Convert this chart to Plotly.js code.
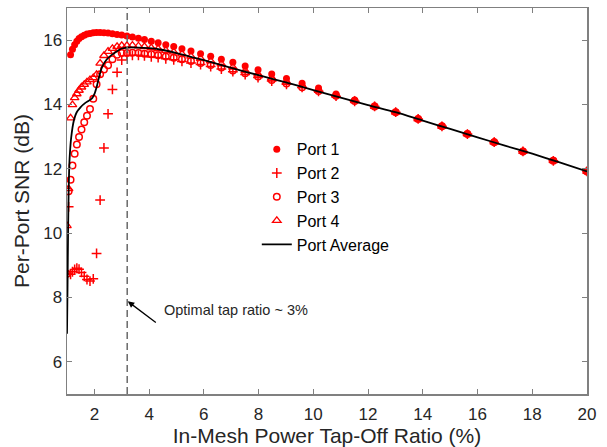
<!DOCTYPE html>
<html>
<head>
<meta charset="utf-8">
<script src="https://cdn.plot.ly/plotly-3.0.1.min.js"></script>
<style>html,body{margin:0;padding:0;background:#fff;}#chart{width:607px;height:447px;}</style>
</head>
<body>
<div id="chart"></div>
<script>
// Tap-off ratio (%) sample positions
var tapRatio = [1.00,1.06,1.13,1.20,1.28,1.36,1.44,1.53,1.63,1.73,1.84,1.96,2.08,2.21,2.35,2.50,2.66,2.83,3.00,3.19,
  3.39,3.61,3.83,4.08,4.33,4.61,4.90,5.20,5.53,5.88,6.25,6.64,7.06,7.51,7.98,8.48,9.02,9.59,10.19,10.83,
  11.51,12.24,13.01,13.83,14.70,15.63,16.61,17.66,18.77,20.00];

var port1 = [null,null,15.55,15.72,15.86,15.97,16.05,16.11,16.15,16.19,16.21,16.23,16.24,16.24,16.23,16.22,16.20,16.18,16.16,16.13,
  16.10,16.06,16.02,15.97,15.92,15.86,15.80,15.73,15.66,15.58,15.50,15.41,15.31,15.20,15.08,14.95,14.81,14.66,14.51,14.33,
  14.14,13.95,13.77,13.56,13.33,13.09,12.84,12.55,12.26,11.93];

var port2 = [8.75,10.82,8.72,8.80,8.87,8.91,8.88,8.78,8.66,8.56,8.51,8.58,9.37,11.03,12.65,13.71,14.47,15.00,15.38,15.52,
  15.53,15.53,15.51,15.48,15.46,15.42,15.39,15.34,15.29,15.24,15.18,15.10,15.02,14.93,14.84,14.73,14.63,14.53,14.41,14.26,
  14.10,13.94,13.76,13.55,13.32,13.08,12.83,12.54,12.25,11.92];

var port3 = [8.74,11.30,11.66,12.10,12.47,12.76,12.99,13.22,13.45,13.65,13.86,14.18,14.63,14.94,15.09,15.22,15.41,15.55,15.60,15.60,
  15.61,15.60,15.58,15.56,15.53,15.49,15.45,15.41,15.35,15.29,15.23,15.15,15.06,14.97,14.87,14.76,14.65,14.54,14.42,14.27,
  14.11,13.94,13.76,13.55,13.32,13.08,12.83,12.54,12.25,11.92];

var port4 = [10.23,11.38,13.58,13.99,14.21,14.33,14.44,14.54,14.62,14.70,14.77,14.83,14.93,15.28,15.52,15.65,15.74,15.80,15.83,15.83,
  15.84,15.82,15.80,15.76,15.73,15.68,15.63,15.57,15.50,15.43,15.35,15.26,15.16,15.05,14.94,14.82,14.70,14.58,14.44,14.28,
  14.12,13.94,13.76,13.55,13.32,13.08,12.83,12.54,12.25,11.92];

var avgX = [1.00,1.02,1.04,1.06,1.08,1.10,1.15,1.25,1.35,1.50,1.67,1.80,1.92,2.00,2.10,2.20,2.30,2.45,2.60,2.80,
  3.00,3.20,3.60,4.00,4.40,5.00,5.90,7.00,8.00,9.00,10.0,11.0,12.0,13.0,14.0,15.0,16.0,17.0,18.0,19.0,20.0];
var avgY = [6.87,8.40,10.10,11.30,12.00,12.40,12.95,13.50,13.75,13.92,14.05,14.12,14.20,14.32,14.60,14.95,15.20,15.40,15.52,15.64,
  15.74,15.77,15.77,15.75,15.71,15.60,15.40,15.14,14.91,14.69,14.45,14.21,13.98,13.76,13.50,13.24,12.98,12.72,12.47,12.20,11.92];

var seriesNames = ['Port 1','Port 2','Port 3','Port 4','Port Average'];
var xTicks = [2,4,6,8,10,12,14,16,18,20];
var yTicks = [6,8,10,12,14,16];
var optimalTap = 3.2;
var annotText = 'Optimal tap ratio ~ 3%';

var red = '#ff0000';
var FONT = 'Liberation Sans, Arial, Helvetica, sans-serif';

var traces = [
  {x: tapRatio, y: port1, name: seriesNames[0], mode: 'markers', type: 'scatter',
   marker: {symbol: 'circle', size: 7, color: red}},
  {x: tapRatio, y: port2, name: seriesNames[1], mode: 'markers', type: 'scatter',
   marker: {symbol: 'cross-thin-open', size: 7, color: red, line: {color: red, width: 1.5}}},
  {x: tapRatio, y: port3, name: seriesNames[2], mode: 'markers', type: 'scatter',
   marker: {symbol: 'circle-open', size: 6.5, color: red, line: {color: red, width: 1.5}}},
  {x: tapRatio, y: port4, name: seriesNames[3], mode: 'markers', type: 'scatter',
   marker: {symbol: 'triangle-up-open', size: 7.5, color: red, line: {color: red, width: 1.3}}},
  {x: avgX, y: avgY, name: seriesNames[4], mode: 'lines', type: 'scatter',
   line: {color: '#000000', width: 1.8, shape: 'spline', smoothing: 0.6}}
];

var axisCommon = {
  showgrid: false, zeroline: false, showline: true, linecolor: '#808080', linewidth: 1.5,
  mirror: 'ticks', ticks: 'inside', ticklen: 5, tickwidth: 1, tickcolor: '#808080',
  tickfont: {family: FONT, size: 17, color: '#262626'}
};

var layout = {
  width: 607, height: 447,
  margin: {l: 67, r: 20, t: 8, b: 53},
  paper_bgcolor: '#ffffff', plot_bgcolor: '#ffffff',
  font: {family: FONT, color: '#262626'},
  xaxis: Object.assign({}, axisCommon, {
    range: [1, 20], tickvals: xTicks, ticklabelstandoff: 4,
    title: {text: 'In-Mesh Power Tap-Off Ratio (%)', font: {family: FONT, size: 21, color: '#262626'}, standoff: 2}
  }),
  yaxis: Object.assign({}, axisCommon, {
    range: [5, 17], tickvals: yTicks, ticklabelstandoff: 0,
    title: {text: 'Per-Port SNR (dB)', font: {family: FONT, size: 21, color: '#262626'}, standoff: 8}
  }),
  showlegend: true,
  legend: {x: 0.365, y: 0.678, xanchor: 'left', yanchor: 'top', bgcolor: 'rgba(0,0,0,0)',
    font: {family: FONT, size: 16, color: '#000000'}},
  shapes: [
    {type: 'line', xref: 'x', yref: 'paper', x0: optimalTap, x1: optimalTap, y0: 0, y1: 1,
     line: {color: '#6a6a6a', width: 1.5, dash: '7px,4px'}}
  ],
  annotations: [
    {xref: 'x', yref: 'y', x: 3.22, y: 7.88, axref: 'x', ayref: 'y', ax: 4.30, ay: 7.19,
     text: '', showarrow: true, arrowhead: 2, arrowsize: 1, arrowwidth: 1.3, arrowcolor: '#000000',
     standoff: 0, startstandoff: 0},
    {xref: 'x', yref: 'y', x: 4.48, y: 7.62, xanchor: 'left', yanchor: 'middle', text: annotText,
     showarrow: false, font: {family: FONT, size: 14.5, color: '#262626'}}
  ]
};

Plotly.newPlot('chart', traces, layout, {displayModeBar: false, staticPlot: true});
</script>
</body>
</html>
